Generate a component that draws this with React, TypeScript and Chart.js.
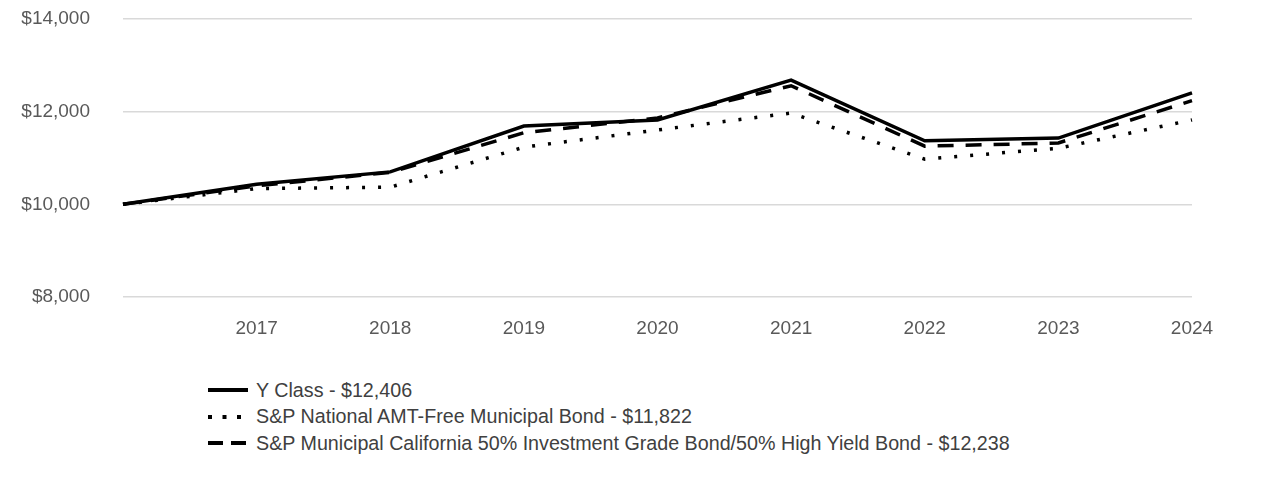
import React, { useEffect, useRef } from "react";
import { Chart, registerables } from "chart.js";

Chart.register(...registerables);

const xLabels = ["", "2017", "2018", "2019", "2020", "2021", "2022", "2023", "2024"];
const yClass = [10000, 10435, 10700, 11690, 11820, 12680, 11370, 11430, 12406];
const spNational = [10000, 10340, 10370, 11235, 11605, 11970, 10975, 11210, 11822];
const spCalifornia = [10000, 10400, 10690, 11545, 11865, 12560, 11255, 11325, 12238];
const seriesNames = [
  "Y Class - $12,406",
  "S&P National AMT-Free Municipal Bond - $11,822",
  "S&P Municipal California 50% Investment Grade Bond/50% High Yield Bond - $12,238",
];

const FONT = "'Liberation Sans', Arial, sans-serif";

export default function App() {
  const ref = useRef<HTMLCanvasElement | null>(null);

  useEffect(() => {
    if (!ref.current) return;
    const chart = new Chart(ref.current, {
      type: "line",
      data: {
        labels: xLabels,
        datasets: [
          {
            label: seriesNames[0],
            data: yClass,
            borderColor: "#000000",
            borderWidth: 3.5,
            pointRadius: 0,
            tension: 0,
          },
          {
            label: seriesNames[1],
            data: spNational,
            borderColor: "#000000",
            borderWidth: 3.5,
            borderDash: [3, 13],
            pointRadius: 0,
            tension: 0,
          },
          {
            label: seriesNames[2],
            data: spCalifornia,
            borderColor: "#000000",
            borderWidth: 3.5,
            borderDash: [16, 12],
            pointRadius: 0,
            tension: 0,
          },
        ],
      },
      options: {
        responsive: false,
        animation: false,
        layout: { padding: { top: 0, right: 86, bottom: 0, left: 0 } },
        plugins: { legend: { display: false }, tooltip: { enabled: false } },
        scales: {
          x: {
            offset: false,
            grid: { display: false, drawTicks: false },
            border: { display: false },
            ticks: {
              color: "#595959",
              font: { family: FONT, size: 19 },
              padding: 20,
              maxRotation: 0,
              autoSkip: false,
            },
            afterFit: (s: any) => {
              s.height = 56;
              s.paddingLeft = 0;
              s.paddingRight = 0;
            },
          },
          y: {
            min: 8000,
            max: 14000,
            grid: { color: "#d9d9d9", lineWidth: 1.5, drawTicks: false },
            border: { display: false },
            ticks: {
              stepSize: 2000,
              color: "#595959",
              font: { family: FONT, size: 19 },
              padding: 33,
              callback: (v: any) => "$" + Number(v).toLocaleString("en-US"),
            },
            afterFit: (s: any) => {
              s.width = 115;
              s.paddingTop = 11;
              s.paddingBottom = 0;
            },
          },
        },
      },
    });
    return () => chart.destroy();
  }, []);

  const samples = [
    { dash: undefined as string | undefined, w: 4 },
    { dash: "4,10.5", w: 4 },
    { dash: "15,8", w: 4 },
  ];

  return (
    <div style={{ position: "relative", width: 1270, height: 464 }}>
      <canvas ref={ref} width={1270} height={345} style={{ display: "block" }} />
      <div
        style={{
          position: "absolute",
          left: 200,
          top: 369,
          fontFamily: FONT,
          fontSize: 19.7,
          color: "#404040",
        }}
      >
        {seriesNames.map((name, i) => (
          <div key={i} style={{ display: "flex", alignItems: "center", height: 26.5, whiteSpace: "nowrap" }}>
            <svg width={40} height={8} style={{ marginRight: 8 }}>
              <line
                x1={0}
                y1={4}
                x2={40}
                y2={4}
                stroke="#000"
                strokeWidth={samples[i].w}
                strokeDasharray={samples[i].dash}
              />
            </svg>
            <span>{name}</span>
          </div>
        ))}
      </div>
    </div>
  );
}
